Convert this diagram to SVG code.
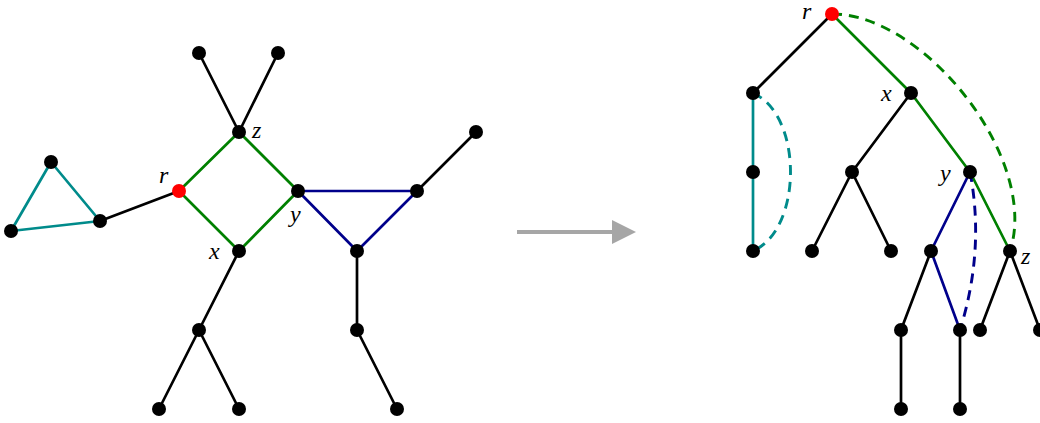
<svg xmlns="http://www.w3.org/2000/svg" width="1040" height="423" viewBox="0 0 1040 423">
<style>
.e{stroke-width:2.7;fill:none;stroke-linecap:round}
.k{stroke:#000}
.g{stroke:#008000}
.t{stroke:#008b8b}
.b{stroke:#00008b}
.d{stroke-dasharray:10 7;stroke-linecap:butt;stroke-width:2.9}
.n{fill:#000}
.r{fill:#ff0000}
.l{font-family:"Liberation Serif",serif;font-style:italic;font-size:24px;fill:#000}
</style>
<defs>
<marker id="ah" markerWidth="6" markerHeight="6" refX="2" refY="3" orient="auto" markerUnits="strokeWidth">
<path d="M0,0 L6,3 L0,6 Z" fill="#a6a6a6"/>
</marker>
</defs>
<g id="connectors">
<line class="e t" x1="51" y1="162" x2="11" y2="231"/>
<line class="e t" x1="11" y1="231" x2="100" y2="221"/>
<line class="e t" x1="51" y1="162" x2="100" y2="221"/>
<line class="e k" x1="100" y1="221" x2="179" y2="191"/>
<line class="e g" x1="179" y1="191" x2="239" y2="132"/>
<line class="e g" x1="179" y1="191" x2="239" y2="251"/>
<line class="e g" x1="239" y1="132" x2="298" y2="191"/>
<line class="e g" x1="239" y1="251" x2="298" y2="191"/>
<line class="e k" x1="239" y1="132" x2="199" y2="53"/>
<line class="e k" x1="239" y1="132" x2="278" y2="53"/>
<line class="e k" x1="239" y1="251" x2="199" y2="330"/>
<line class="e k" x1="199" y1="330" x2="159" y2="409"/>
<line class="e k" x1="199" y1="330" x2="239" y2="409"/>
<line class="e b" x1="298" y1="191" x2="417" y2="191"/>
<line class="e b" x1="298" y1="191" x2="357" y2="251"/>
<line class="e b" x1="417" y1="191" x2="357" y2="251"/>
<line class="e k" x1="417" y1="191" x2="476" y2="132"/>
<line class="e k" x1="357" y1="251" x2="357" y2="330"/>
<line class="e k" x1="357" y1="330" x2="397" y2="409"/>
<line x1="517" y1="232" x2="620" y2="232" stroke="#a6a6a6" stroke-width="4" marker-end="url(#ah)"/>
<line class="e k" x1="832" y1="14" x2="753" y2="93"/>
<line class="e g" x1="832" y1="14" x2="911" y2="93"/>
<line class="e t" x1="753" y1="93" x2="753" y2="172"/>
<line class="e t" x1="753" y1="172" x2="753" y2="251"/>
<line class="e k" x1="911" y1="93" x2="852" y2="172"/>
<line class="e g" x1="911" y1="93" x2="970" y2="172"/>
<line class="e k" x1="852" y1="172" x2="812" y2="251"/>
<line class="e k" x1="852" y1="172" x2="891" y2="251"/>
<line class="e g" x1="970" y1="172" x2="1010" y2="251"/>
<line class="e b" x1="970" y1="172" x2="931" y2="251"/>
<line class="e b" x1="931" y1="251" x2="960" y2="330"/>
<line class="e k" x1="931" y1="251" x2="901" y2="330"/>
<line class="e k" x1="901" y1="330" x2="901" y2="409"/>
<line class="e k" x1="960" y1="330" x2="960" y2="409"/>
<line class="e k" x1="1010" y1="251" x2="980" y2="330"/>
<line class="e k" x1="1010" y1="251" x2="1040" y2="330"/>
<path class="e t d" d="M753,93 C803,115 803,229 753,251"/>
<path class="e g d" d="M832,14 C925,14 1040,160 1010,251"/>
<path class="e b d" d="M970,172 Q985,250 960,330"/>
</g>
<g id="left-graph">
<circle id="n1" class="n" cx="51" cy="162" r="7"/>
<circle id="n2" class="n" cx="11" cy="231" r="7"/>
<circle id="n3" class="n" cx="100" cy="221" r="7"/>
<circle id="r1" class="r" cx="179" cy="191" r="7"/>
<circle id="z1" class="n" cx="239" cy="132" r="7"/>
<circle id="x1" class="n" cx="239" cy="251" r="7"/>
<circle id="y1" class="n" cx="298" cy="191" r="7"/>
<circle id="n4" class="n" cx="199" cy="53" r="7"/>
<circle id="n5" class="n" cx="278" cy="53" r="7"/>
<circle id="n6" class="n" cx="199" cy="330" r="7"/>
<circle id="n7" class="n" cx="159" cy="409" r="7"/>
<circle id="n8" class="n" cx="239" cy="409" r="7"/>
<circle id="n9" class="n" cx="417" cy="191" r="7"/>
<circle id="n10" class="n" cx="357" cy="251" r="7"/>
<circle id="n11" class="n" cx="476" cy="132" r="7"/>
<circle id="n12" class="n" cx="357" cy="330" r="7"/>
<circle id="n13" class="n" cx="397" cy="409" r="7"/>
<text class="l" x="159" y="183">r</text>
<text class="l" x="252" y="138">z</text>
<text class="l" x="290" y="222">y</text>
<text class="l" x="209" y="259">x</text>
</g>
<g id="right-tree">
<circle id="r2" class="r" cx="832" cy="14" r="7"/>
<circle id="m1" class="n" cx="753" cy="93" r="7"/>
<circle id="x2" class="n" cx="911" cy="93" r="7"/>
<circle id="m2" class="n" cx="753" cy="172" r="7"/>
<circle id="m3" class="n" cx="753" cy="251" r="7"/>
<circle id="m4" class="n" cx="852" cy="172" r="7"/>
<circle id="y2" class="n" cx="970" cy="172" r="7"/>
<circle id="m5" class="n" cx="812" cy="251" r="7"/>
<circle id="m6" class="n" cx="891" cy="251" r="7"/>
<circle id="m7" class="n" cx="931" cy="251" r="7"/>
<circle id="z2" class="n" cx="1010" cy="251" r="7"/>
<circle id="m8" class="n" cx="901" cy="330" r="7"/>
<circle id="m9" class="n" cx="960" cy="330" r="7"/>
<circle id="m10" class="n" cx="901" cy="409" r="7"/>
<circle id="m11" class="n" cx="960" cy="409" r="7"/>
<circle id="m12" class="n" cx="980" cy="330" r="7"/>
<circle id="m13" class="n" cx="1040" cy="330" r="7"/>
<text class="l" x="802" y="19">r</text>
<text class="l" x="881" y="101">x</text>
<text class="l" x="940" y="181">y</text>
<text class="l" x="1021" y="264">z</text>
</g>
</svg>
